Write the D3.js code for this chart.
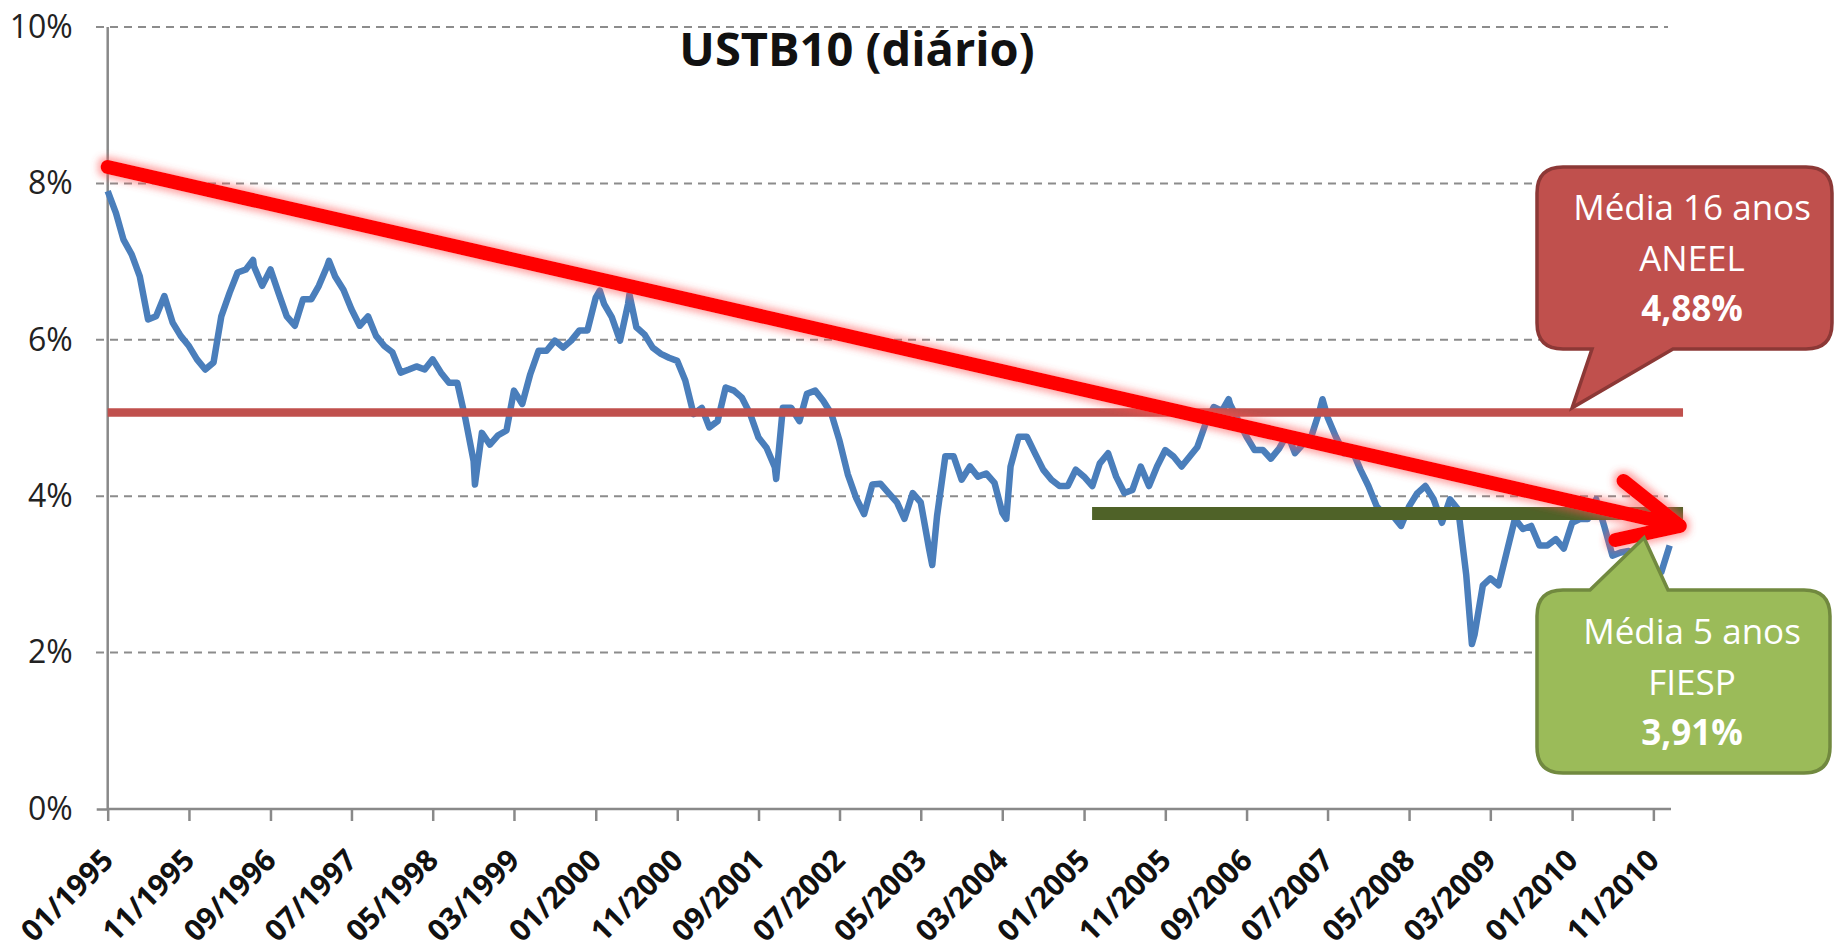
<!DOCTYPE html>
<html>
<head>
<meta charset="utf-8">
<script src="https://cdn.jsdelivr.net/npm/d3@7"></script>
<style>
  body { margin: 0; background: #fff; }
  svg { display: block; }
</style>
</head>
<body>
<svg width="1836" height="952"></svg>
<script>
// monthly readings of the 10y yield (%), starting 01/1995
const firstMonth = '1995-01';
const ust10 = [
  7.90, 7.62, 7.28, 7.09, 6.81, 6.26, 6.30, 6.56, 6.22, 6.05, 5.92, 5.75,
  5.62, 5.71, 6.30, 6.60, 6.86, 6.90, 6.94, 6.69, 6.90, 6.60, 6.30, 6.18,
  6.52, 6.52, 6.69, 6.94, 6.81, 6.64, 6.39, 6.18, 6.30, 6.05, 5.92, 5.84,
  5.58, 5.62, 5.66, 5.62, 5.75, 5.58, 5.45, 5.45, 4.98, 4.45, 4.81, 4.66,
  4.78, 4.84, 5.35, 5.18, 5.56, 5.86, 5.86, 5.99, 5.90, 5.99, 6.12, 6.12,
  6.54, 6.46, 6.29, 5.99, 6.46, 6.16, 6.07, 5.90, 5.82, 5.77, 5.73, 5.48,
  5.05, 5.13, 4.88, 4.96, 5.39, 5.35, 5.26, 5.05, 4.75, 4.62, 4.37, 5.13,
  5.13, 4.96, 5.31, 5.35, 5.22, 5.05, 4.71, 4.28, 3.98, 3.77, 4.15, 4.16,
  4.04, 3.92, 3.71, 4.04, 3.92, 3.33, 3.75, 4.51, 4.51, 4.21, 4.38, 4.25,
  4.29, 4.17, 3.79, 4.38, 4.76, 4.76, 4.55, 4.34, 4.21, 4.13, 4.13, 4.34,
  4.25, 4.13, 4.42, 4.55, 4.25, 4.04, 4.08, 4.38, 4.13, 4.38, 4.59, 4.51,
  4.38, 4.51, 4.63, 4.93, 5.14, 5.09, 5.18, 4.97, 4.76, 4.59, 4.59, 4.48,
  4.61, 4.80, 4.55, 4.67, 4.76, 5.09, 5.01, 4.76, 4.55, 4.59, 4.34, 4.13,
  3.87, 3.75, 3.75, 3.62, 3.87, 4.04, 4.13, 3.96, 3.66, 3.96, 3.83, 2.99,
  2.23, 2.86, 2.95, 2.86, 3.28, 3.71, 3.58, 3.62, 3.37, 3.37, 3.45, 3.33,
  3.66, 3.71, 3.71, 3.96, 3.62, 3.24, 3.28, 3.30, 3.10, 2.95, 2.95, 3.03,
  3.37
];
// daily highs / lows visible between the monthly readings
const extremes = [
  ['1996-06-28', 7.02], ['1997-04-08', 7.01], ['1998-10-06', 4.15],
  ['2000-01-16', 6.63], ['2000-05-06', 6.58], ['2001-11-06', 4.22],
  ['2003-06-13', 3.12], ['2004-03-16', 3.71], ['2006-06-26', 5.24],
  ['2007-06-12', 5.24], ['2008-12-22', 2.11]
];

const xTickLabels = ['01/1995', '11/1995', '09/1996', '07/1997', '05/1998', '03/1999',
  '01/2000', '11/2000', '09/2001', '07/2002', '05/2003', '03/2004', '01/2005',
  '11/2005', '09/2006', '07/2007', '05/2008', '03/2009', '01/2010', '11/2010'];
const yTicks = [0, 2, 4, 6, 8, 10];

// horizontal averages and trend arrow
const avgValues = [5.07, 3.78];
const avgFrom = ['1995-01-01', '2005-01-31'];
const avgTo = ['2011-02-20', '2011-02-20'];
const trendFrom = ['1995-01-01', 8.21];
const trendTo = ['2011-02-08', 3.62];

const calloutAneel = ['Média 16 anos', 'ANEEL', '4,88%'];
const calloutFiesp = ['Média 5 anos', 'FIESP', '3,91%'];
const aneelTip = ['2010-01-01', 5.13];
const fiespTip = ['2010-09-27', 3.47];

const svg = d3.select('svg');
const parseDay = d3.timeParse('%Y-%m-%d');
const parseTick = d3.timeParse('%m/%Y');
const start = d3.timeParse('%Y-%m')(firstMonth);

const series = ust10.map((v, i) => ({ date: d3.timeMonth.offset(start, i), value: v }))
  .concat(extremes.map(d => ({ date: parseDay(d[0]), value: d[1] })))
  .sort((a, b) => a.date - b.date);

const x = d3.scaleTime()
  .domain([parseDay('1995-01-01'), parseDay('2011-01-06')])
  .range([107.7, 1671]);
const y = d3.scaleLinear().domain([0, 10]).range([809, 27]);

const font = '"Open Sans", "DejaVu Sans", sans-serif';

// defs: glow for the trend arrow
const defs = svg.append('defs');
const glow = defs.append('filter').attr('id', 'glow')
  .attr('filterUnits', 'userSpaceOnUse')
  .attr('x', 0).attr('y', 0).attr('width', 1836).attr('height', 952);
glow.append('feMorphology').attr('in', 'SourceAlpha').attr('operator', 'dilate').attr('radius', 3).attr('result', 'd');
glow.append('feGaussianBlur').attr('in', 'd').attr('stdDeviation', 3.5).attr('result', 'b');
glow.append('feFlood').attr('flood-color', '#ff5050').attr('flood-opacity', 0.5);
glow.append('feComposite').attr('in2', 'b').attr('operator', 'in').attr('result', 'g');
const merge = glow.append('feMerge');
merge.append('feMergeNode').attr('in', 'g');
merge.append('feMergeNode').attr('in', 'SourceGraphic');

// gridlines
svg.append('g').selectAll('line')
  .data(yTicks.filter(d => d > 0))
  .enter().append('line')
    .attr('x1', 96).attr('x2', 1668)
    .attr('y1', d => y(d)).attr('y2', d => y(d))
    .attr('stroke', '#8c8c8c')
    .attr('stroke-width', 2)
    .attr('stroke-dasharray', '8,6');

// y axis
const yAxis = svg.append('g')
  .attr('transform', `translate(${x.range()[0]},0)`)
  .call(d3.axisLeft(y).tickValues(yTicks).tickSize(11).tickFormat(d => d + '%'));
yAxis.select('.domain').attr('stroke', '#898989').attr('stroke-width', 2.5).attr('d', `M0,${y(10)}V${y(0)}`);
yAxis.selectAll('.tick line').attr('stroke', d => d === 0 ? '#898989' : 'none').attr('stroke-width', 2.5);
yAxis.selectAll('.tick text')
  .attr('x', -35)
  .attr('font-family', font)
  .attr('font-size', 32)
  .attr('fill', '#222');

// x axis
const xAxis = svg.append('g')
  .attr('transform', `translate(0,${y(0)})`)
  .call(d3.axisBottom(x).tickValues(xTickLabels.map(parseTick)).tickSize(12)
    .tickFormat(d3.timeFormat('%m/%Y')));
xAxis.select('.domain').attr('stroke', '#898989').attr('stroke-width', 2.5).attr('d', `M${x.range()[0]},0H${x.range()[1]}`);
xAxis.selectAll('.tick line').attr('stroke', '#898989').attr('stroke-width', 2.5);
xAxis.selectAll('.tick text')
  .attr('font-family', font)
  .attr('font-size', 30)
  .attr('font-weight', 'bold')
  .attr('fill', '#111')
  .attr('text-anchor', 'end')
  .attr('dy', 0)
  .attr('y', 0)
  .attr('transform', 'translate(7,53) rotate(-45)');

// title
svg.append('text')
  .attr('x', 857).attr('y', 66)
  .attr('text-anchor', 'middle')
  .attr('font-family', font)
  .attr('font-size', 47)
  .attr('font-weight', 'bold')
  .attr('fill', '#111')
  .text('USTB10 (diário)');

// yield line
svg.append('path')
  .datum(series)
  .attr('fill', 'none')
  .attr('stroke', '#4a7ebb')
  .attr('stroke-width', 6.5)
  .attr('stroke-linejoin', 'round')
  .attr('d', d3.line().x(d => x(d.date)).y(d => y(d.value)));

// average lines
const avgColors = ['#c0504d', '#4f6228'];
const avgWidths = [8.5, 13];
svg.append('g').selectAll('line')
  .data(avgValues)
  .enter().append('line')
    .attr('x1', (d, i) => x(parseDay(avgFrom[i])))
    .attr('x2', (d, i) => x(parseDay(avgTo[i])))
    .attr('y1', d => y(d)).attr('y2', d => y(d))
    .attr('stroke', (d, i) => avgColors[i])
    .attr('stroke-width', (d, i) => avgWidths[i]);

// trend arrow
const p0 = [x(parseDay(trendFrom[0])), y(trendFrom[1])];
const p1 = [x(parseDay(trendTo[0])), y(trendTo[1])];
const ang = Math.atan2(p1[1] - p0[1], p1[0] - p0[0]);
const barb = (da, len) => [p1[0] - len * Math.cos(ang + da), p1[1] - len * Math.sin(ang + da)];
const b1 = barb(-0.44, 66), b2 = barb(0.45, 72);
svg.append('path')
  .attr('d', `M${p0}L${p1}M${b1}L${p1}L${b2}`)
  .attr('fill', 'none')
  .attr('stroke', '#ff0000')
  .attr('stroke-width', 14)
  .attr('stroke-linecap', 'round')
  .attr('stroke-linejoin', 'round')
  .attr('filter', 'url(#glow)');

// callouts
function callout(box, tip, baseL, baseR, down) {
  const [x0, y0, x1, y1] = box, r = 26;
  if (down) {
    return `M${x0 + r},${y0}H${x1 - r}Q${x1},${y0} ${x1},${y0 + r}V${y1 - r}Q${x1},${y1} ${x1 - r},${y1}` +
      `H${baseR}L${tip}L${baseL},${y1}H${x0 + r}Q${x0},${y1} ${x0},${y1 - r}V${y0 + r}Q${x0},${y0} ${x0 + r},${y0}Z`;
  }
  return `M${x0 + r},${y0}H${baseL}L${tip}L${baseR},${y0}H${x1 - r}Q${x1},${y0} ${x1},${y0 + r}V${y1 - r}` +
    `Q${x1},${y1} ${x1 - r},${y1}H${x0 + r}Q${x0},${y1} ${x0},${y1 - r}V${y0 + r}Q${x0},${y0} ${x0 + r},${y0}Z`;
}

const aneelBox = [1537, 167, 1832, 349];
svg.append('path')
  .attr('d', callout(aneelBox, [x(parseDay(aneelTip[0])), y(aneelTip[1])], 1592, 1673, true))
  .attr('fill', '#c0504d')
  .attr('stroke', '#8c3836')
  .attr('stroke-width', 3.5);

const fiespBox = [1537, 590, 1830, 773];
svg.append('path')
  .attr('d', callout(fiespBox, [x(parseDay(fiespTip[0])), y(fiespTip[1])], 1590, 1668, false))
  .attr('fill', '#9bbb59')
  .attr('stroke', '#71893f')
  .attr('stroke-width', 3.5);

function calloutText(lines, cy) {
  svg.append('g').selectAll('text')
    .data(lines)
    .enter().append('text')
      .attr('x', 1692)
      .attr('y', (d, i) => cy + i * 50.5)
      .attr('dy', '0.35em')
      .attr('text-anchor', 'middle')
      .attr('font-family', font)
      .attr('font-size', 35)
      .attr('font-weight', (d, i) => i === 2 ? 'bold' : 'normal')
      .attr('fill', '#fff')
      .text(d => d);
}
calloutText(calloutAneel, 208);
calloutText(calloutFiesp, 632);
</script>
</body>
</html>
